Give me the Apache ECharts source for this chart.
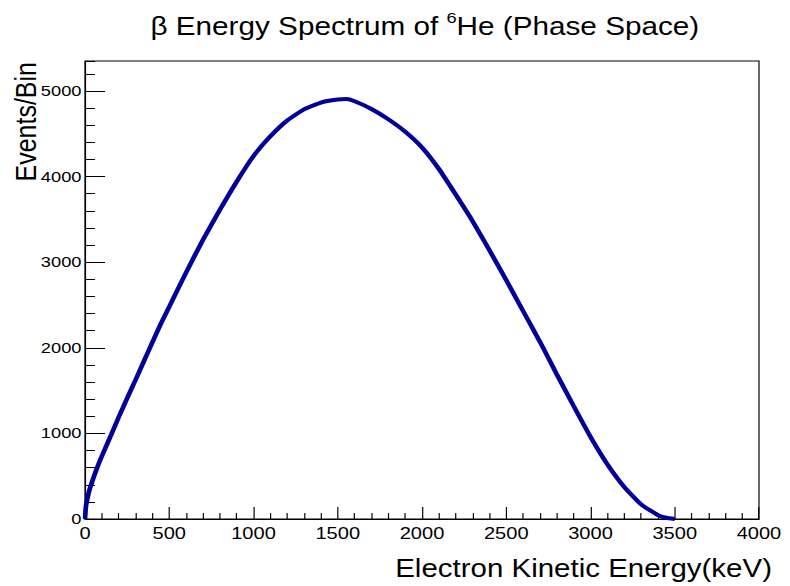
<!DOCTYPE html>
<html>
<head>
<meta charset="utf-8">
<script src="https://cdn.jsdelivr.net/npm/echarts@6/dist/echarts.min.js"></script>
<style>
html,body{margin:0;padding:0;background:#fff;overflow:hidden;}
#c{width:670px;height:586px;transform:scaleX(1.1791);transform-origin:0 0;}
</style>
</head>
<body>
<div id="c"></div>
<script>
// Electron kinetic energy (keV) sample points
const energies = [0,5,10,25,50,75,100,150,200,250,300,350,400,450,500,600,700,800,900,1000,1100,1200,1300,1400,1500,1550,1600,1700,1800,1900,2000,2100,2200,2300,2400,2500,2600,2700,2800,2900,3000,3100,3200,3300,3400,3450,3500];
// Events per bin at those energies
const counts = [0,140,200,330,480,615,735,960,1190,1410,1625,1845,2065,2280,2480,2880,3260,3610,3940,4240,4470,4655,4785,4865,4900,4905,4880,4790,4670,4525,4340,4090,3790,3480,3140,2790,2430,2070,1690,1320,960,640,375,170,45,14,0];
const xTicks = [0,500,1000,1500,2000,2500,3000,3500,4000];
const yTicks = [0,1000,2000,3000,4000,5000];

const titleText = '{n|β Energy Spectrum of }{s|6}{n|He (Phase Space)}';
const xName = 'Electron Kinetic Energy(keV)';
const yName = 'Events/Bin';

const chart = echarts.init(document.getElementById('c'), null, {renderer: 'svg'});
const FONT = 'Liberation Sans';
const yMax = 5350;

chart.setOption({
  animation: false,
  backgroundColor: '#fff',
  title: {
    text: titleText,
    left: 355.3, top: 5, textAlign: 'center',
    textStyle: {
      fontWeight: 'normal',
      rich: {
        n: {fontFamily: FONT, fontSize: 25.2, fontWeight: 'normal', color: '#000', lineHeight: 32},
        s: {fontFamily: FONT, fontSize: 15.5, fontWeight: 'normal', color: '#000', lineHeight: 16, verticalAlign: 'top'}
      }
    }
  },
  grid: {left: 72.1, right: 26.3, top: 61, bottom: 67, show: true, borderColor: '#000', borderWidth: 1, containLabel: false},
  xAxis: {
    type: 'value', min: 0, max: 4000, interval: 500,
    axisLine: {show: true, lineStyle: {color: '#000', width: 1}},
    axisTick: {show: true, inside: true, length: 12, lineStyle: {color: '#000', width: 1}},
    minorTick: {show: true, splitNumber: 5, length: 6, lineStyle: {color: '#000', width: 1}},
    splitLine: {show: false},
    axisLabel: {show: true, margin: 6, fontFamily: FONT, fontSize: 17, color: '#000',
      formatter: v => xTicks.includes(v) ? String(v) : ''}
  },
  yAxis: [{
    type: 'value', min: 0, max: yMax, interval: 1000, position: 'left',
    axisLine: {show: true, lineStyle: {color: '#000', width: 1}},
    axisTick: {show: true, inside: true, length: 17, lineStyle: {color: '#000', width: 1}},
    splitLine: {show: false},
    axisLabel: {show: true, margin: 3, fontFamily: FONT, fontSize: 15.5, color: '#000', showMaxLabel: false,
      formatter: v => yTicks.includes(v) ? String(v) : ''}
  }, {
    type: 'value', min: 0, max: yMax, interval: 200, position: 'left',
    axisLine: {show: false},
    axisTick: {show: true, inside: true, length: 8.5, lineStyle: {color: '#000', width: 1}},
    splitLine: {show: false},
    axisLabel: {show: false}
  }],
  graphic: [{
    type: 'text', x: 22, y: 62, rotation: Math.PI / 2,
    style: {text: yName, fontFamily: FONT, fontSize: 25, fill: '#000', textAlign: 'right', textVerticalAlign: 'middle'}
  }, {
    type: 'text', x: 654.7, y: 568,
    style: {text: xName, fontFamily: FONT, fontSize: 25, fill: '#000', textAlign: 'right', textVerticalAlign: 'middle'}
  }],
  series: [{
    type: 'line', xAxisIndex: 0, yAxisIndex: 0,
    data: energies.map((e, i) => [e, counts[i]]),
    showSymbol: false, smooth: 0.15,
    lineStyle: {color: '#00009a', width: 4},
    z: 3
  }]
});
</script>
</body>
</html>
